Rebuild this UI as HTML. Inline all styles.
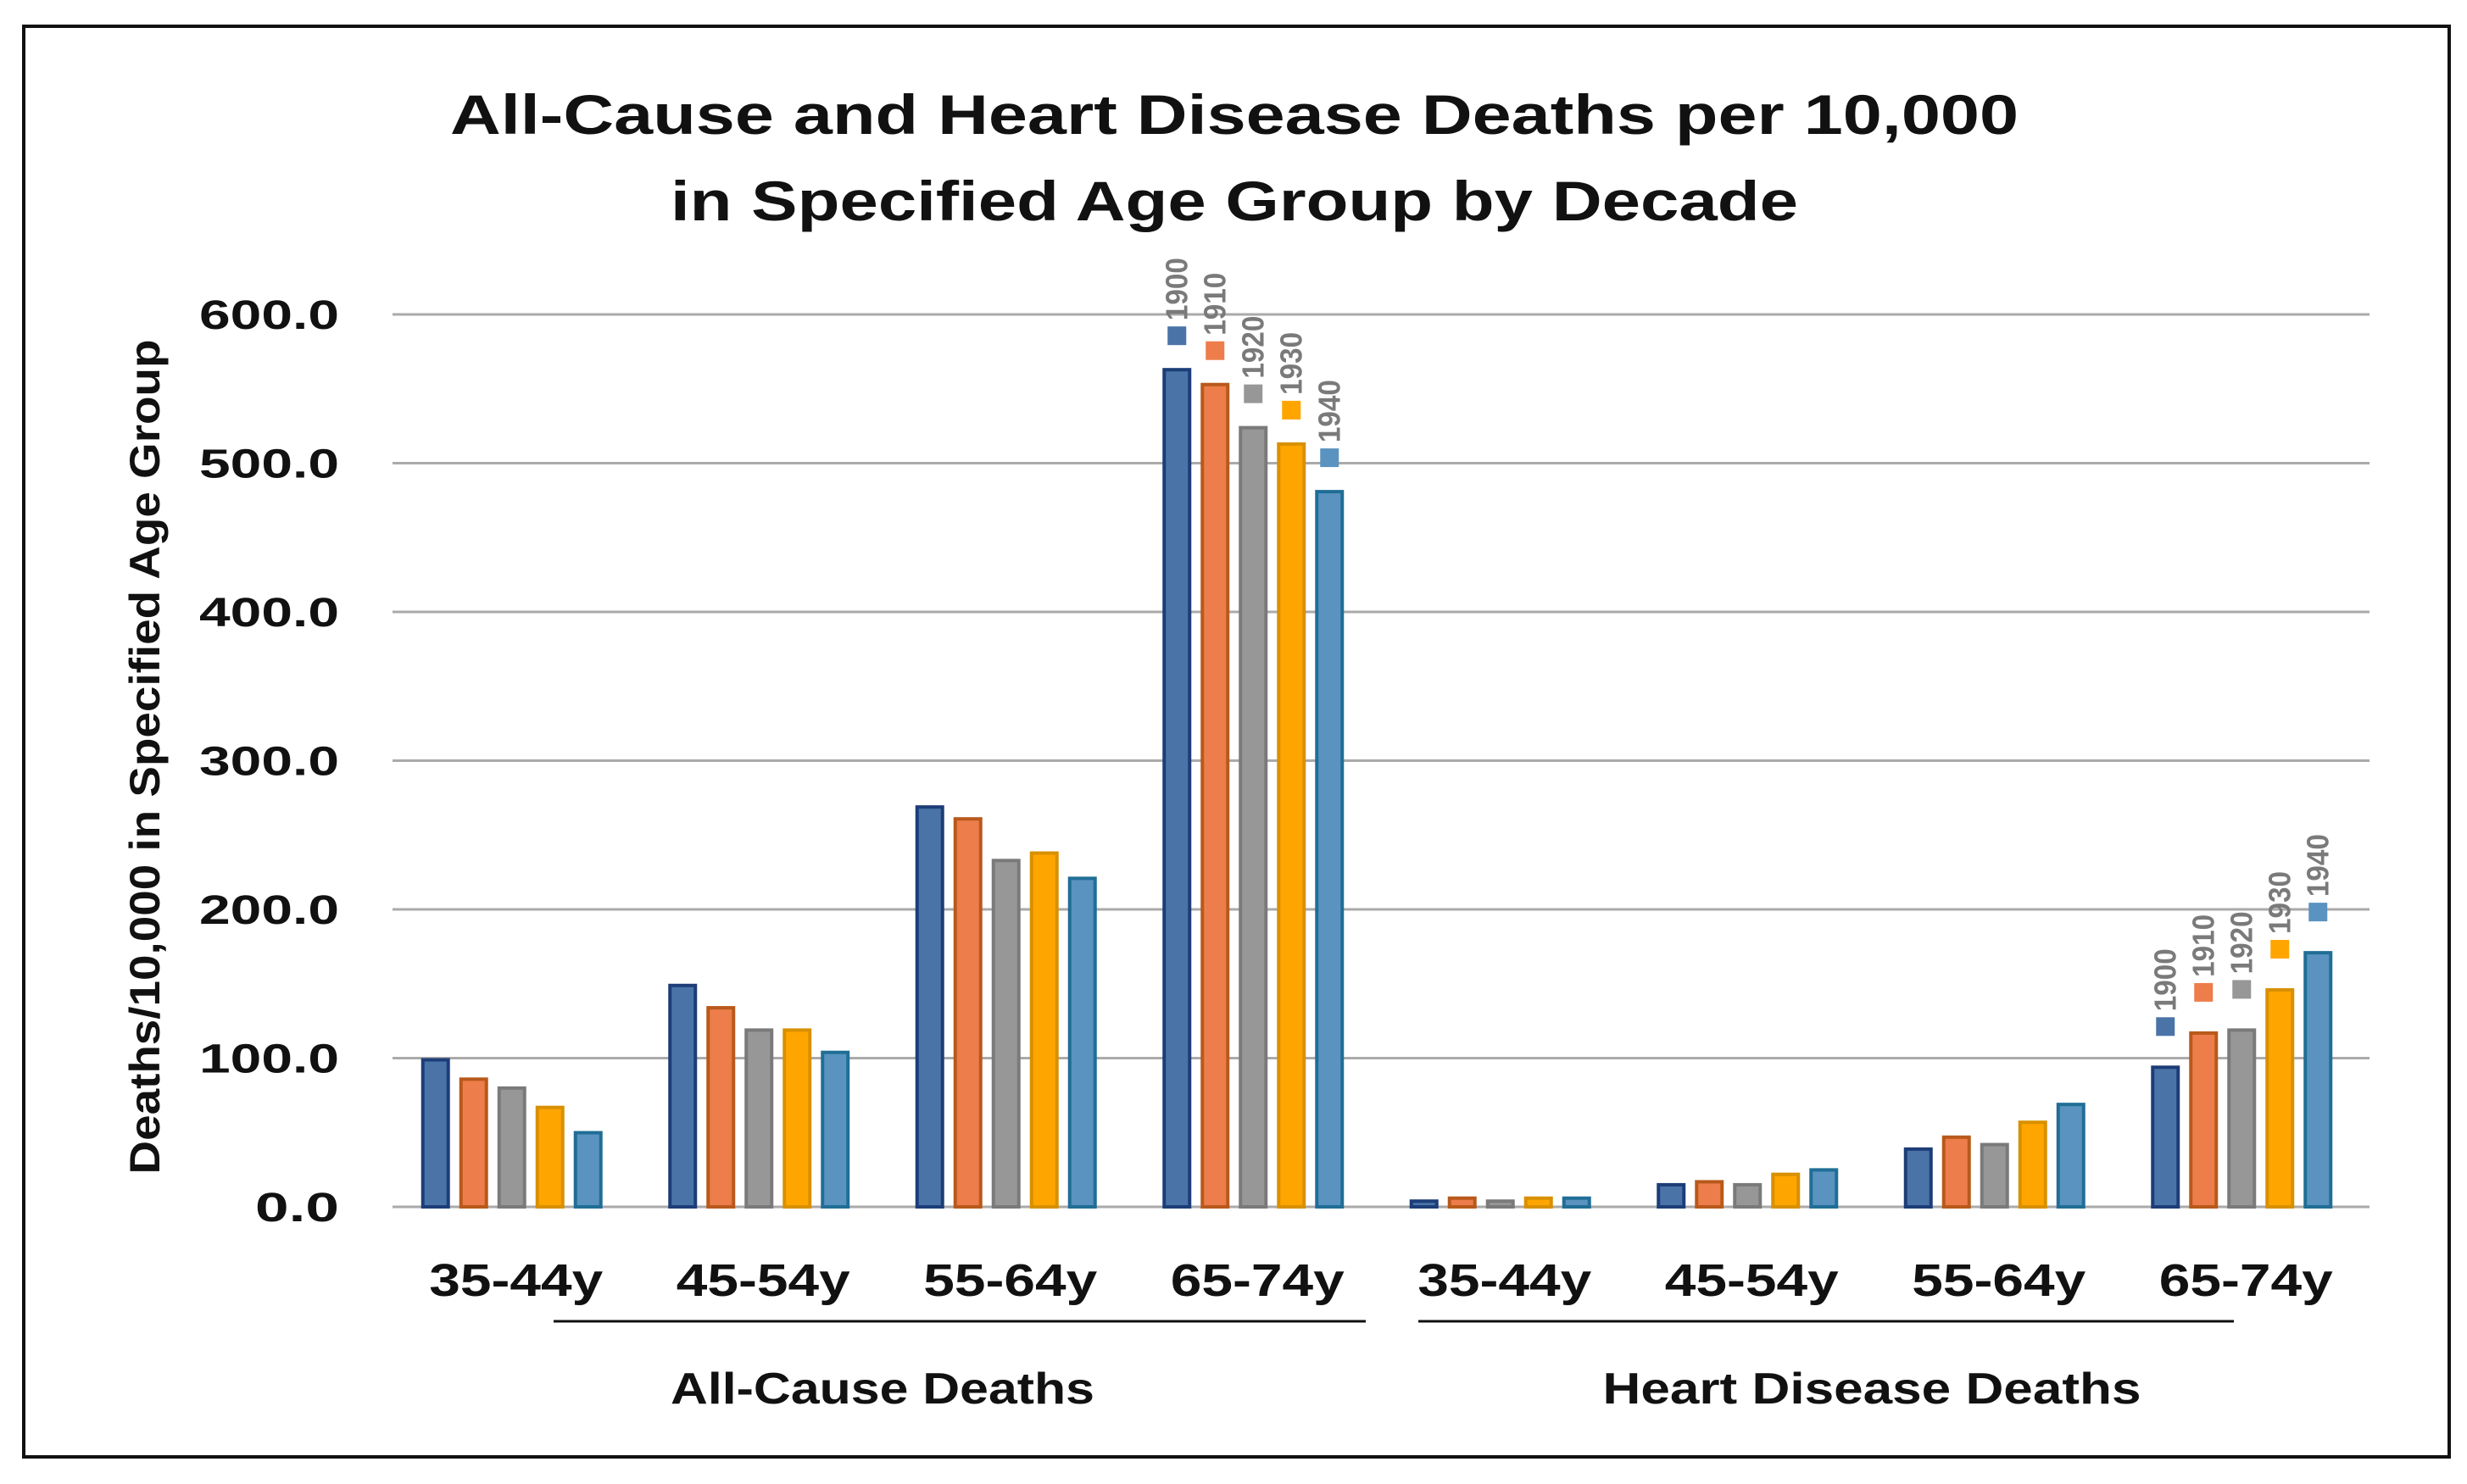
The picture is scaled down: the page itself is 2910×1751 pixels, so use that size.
<!DOCTYPE html>
<html><head><meta charset="utf-8">
<style>
html,body{margin:0;padding:0;background:#fff;}
svg{display:block;}
text{font-family:"Liberation Sans",sans-serif;}
</style></head>
<body>
<svg id="chart" width="2910" height="1751" viewBox="0 0 2910 1751" xmlns="http://www.w3.org/2000/svg">
<rect x="28" y="31" width="2861" height="1688" fill="#fff" stroke="#111" stroke-width="4"/>
<text x="1456" y="158" text-anchor="middle" font-family="DejaVu Sans" font-weight="bold" font-size="66" textLength="1850" lengthAdjust="spacingAndGlyphs" fill="#111">All-Cause and Heart Disease Deaths per 10,000</text>
<text x="1456" y="260" text-anchor="middle" font-family="DejaVu Sans" font-weight="bold" font-size="66" textLength="1330" lengthAdjust="spacingAndGlyphs" fill="#111">in Specified Age Group by Decade</text>
<text transform="translate(188,893) rotate(-90)" text-anchor="middle" font-weight="bold" font-size="50" textLength="985" lengthAdjust="spacingAndGlyphs" fill="#111">Deaths/10,000 in Specified Age Group</text>
<g id="grid"></g><g id="bars"></g><g id="labels"></g><g id="xaxis"></g>
<line x1="653" y1="1559" x2="1611" y2="1559" stroke="#111" stroke-width="3"/>
<line x1="1673" y1="1559" x2="2635" y2="1559" stroke="#111" stroke-width="3"/>
<text x="1041" y="1656" text-anchor="middle" font-weight="bold" font-size="52" textLength="500" lengthAdjust="spacingAndGlyphs" fill="#111">All-Cause Deaths</text>
<text x="2208" y="1656" text-anchor="middle" font-weight="bold" font-size="52" textLength="635" lengthAdjust="spacingAndGlyphs" fill="#111">Heart Disease Deaths</text>
</svg>
<script>
const categories = ["35-44y","45-54y","55-64y","65-74y","35-44y","45-54y","55-64y","65-74y"];
const series = ["1900","1910","1920","1930","1940"];
const v1900 = [100,150,270,564,5,16,40,95];
const v1910 = [87,135,262,554,7,18,48,118];
const v1920 = [81,120,234,525,5,16,43,120];
const v1930 = [68,120,239,514,7,23,58,147];
const v1940 = [51,105,222,482,7,26,70,172];
const yTicks = [0,100,200,300,400,500,600];
const labeledGroups = [3,7];

const values=[v1900,v1910,v1920,v1930,v1940];
const fills=["#4a74a8","#ed7d4a","#979797","#ffa500","#5a93c0"];
const strokes=["#1d3d78","#b8591c","#7a7a7a","#d89000","#206e96"];
const NS="http://www.w3.org/2000/svg";
const x0=463,x1=2795,yBase=1424,yPer=1.755;
const gw=(x1-x0)/categories.length;
function yS(v){return yBase-v*yPer;}
function gC(i){return x0+gw*(i+0.5);}
function bX(i,s){return gC(i)-112+s*45;}
function mk(tag,at,parent){const e=document.createElementNS(NS,tag);for(const k in at)e.setAttribute(k,at[k]);document.getElementById(parent).appendChild(e);return e;}
yTicks.forEach(t=>{
  const l=mk('line',{x1:x0,x2:x1,y1:yS(t),y2:yS(t),stroke:'#aaa','stroke-width':3},'grid');
  
  
  const lbl=t.toFixed(1);
  const tx=mk('text',{x:400,y:yS(t)+17,'text-anchor':'end','font-weight':'bold','font-size':48,fill:'#111',textLength:lbl.length*33,lengthAdjust:'spacingAndGlyphs'},'grid');
  tx.textContent=lbl;
  
  
});
categories.forEach((c,i)=>{
  const tx=mk('text',{x:gC(i),y:1529,'text-anchor':'middle','font-weight':'bold','font-size':54,fill:'#111',textLength:205,lengthAdjust:'spacingAndGlyphs'},'xaxis');
  tx.textContent=c;
  
  
  series.forEach((s,k)=>{
    const v=values[k][i];
    const r=mk('rect',{x:bX(i,k)+2,y:yS(v)+2,width:30,height:Math.max(0,v*yPer-2),fill:fills[k],stroke:strokes[k],'stroke-width':4},'bars');
    
    
    if(labeledGroups.includes(i)){
      const cx=bX(i,k)+17, sy=yS(v)-(i===7?46:38);
      const sq=mk('rect',{x:cx-11,y:sy-11,width:22,height:22,fill:fills[k]},'labels');
      
      
      const lt=mk('text',{transform:'translate('+(cx+12)+','+(sy-18)+') rotate(-90)','font-weight':'bold','font-size':36,fill:'#7a7a7a',textLength:74,lengthAdjust:'spacingAndGlyphs'},'labels');
      lt.textContent=s;
      
      
    }
  });
});
</script>
</body></html>
